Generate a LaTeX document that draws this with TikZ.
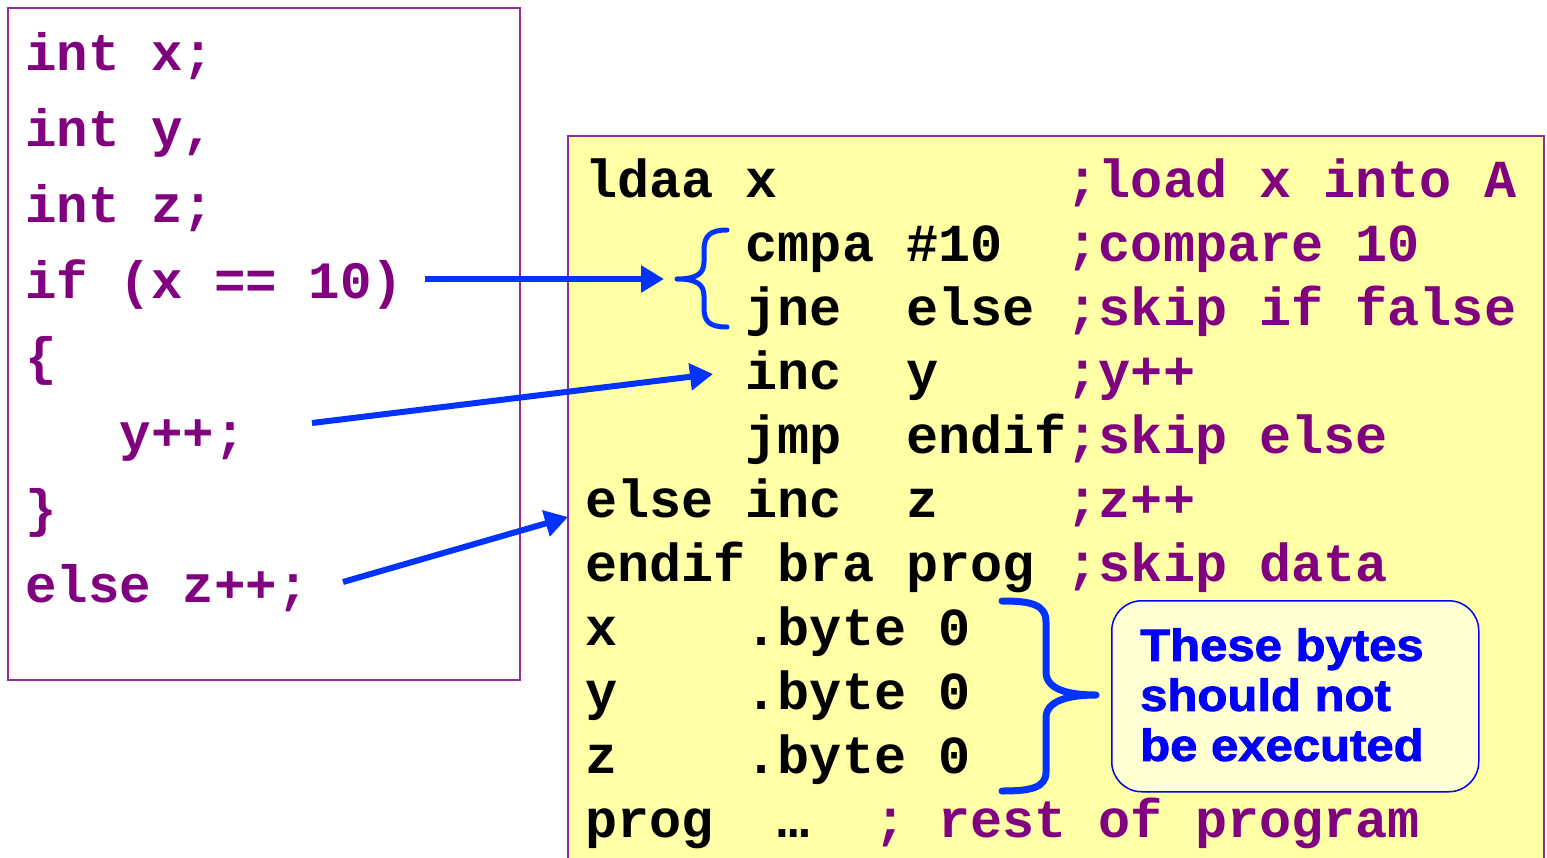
\documentclass[tikz,border=0pt]{standalone}
\usepackage{fontspec}
\usetikzlibrary{arrows.meta}
\newfontfamily\codefont{Liberation Mono}
\newfontfamily\notefont{Liberation Sans}[FakeStretch=1.09,FakeBold=2]

\definecolor{cpurple}{RGB}{128,0,128}
\definecolor{frame}{RGB}{150,45,150}
\definecolor{asmbg}{RGB}{255,255,166}
\definecolor{notebg}{RGB}{255,255,210}
\definecolor{arrowblue}{RGB}{0,51,255}
\definecolor{noteblue}{RGB}{0,0,255}

\tikzset{
  codebox/.style={draw=frame, line width=1.6pt, anchor=north west, inner sep=0pt},
  cline/.style={anchor=base west, inner sep=0pt, text=cpurple,
    font=\codefont\bfseries\fontsize{52.5}{52.5}\selectfont},
  aline/.style={anchor=base west, inner sep=0pt, text=black,
    font=\codefont\bfseries\fontsize{53.5}{53.5}\selectfont},
  link/.style={draw=arrowblue, line width=6pt,
    -{Triangle[length=23pt,width=26pt]}},
  bracestroke/.style={draw=arrowblue, line cap=round, line join=round},
  note/.style={draw=noteblue, line width=1.5pt, fill=notebg,
    rounded corners=30pt, anchor=north west, inner sep=0pt},
  notetext/.style={anchor=north west, inner sep=0pt, align=left, text=noteblue,
    font=\notefont\bfseries\fontsize{45}{50}\selectfont},
}
\newcommand{\cm}[1]{\textcolor{cpurple}{#1}}

\begin{document}
\begin{tikzpicture}[x=1pt,y=-1pt]
\useasboundingbox (0,0) rectangle (1547,857);
\clip (0,0) rectangle (1547,857);

% C source
\node[codebox, fill=white, minimum width=512pt, minimum height=672pt] (cbox) at (7,7) {};
\node[cline] (c1) at (25,70)  {int~x;};
\node[cline] (c2) at (25,146) {int~y,};
\node[cline] (c3) at (25,222) {int~z;};
\node[cline] (c4) at (25,298) {if~(x~==~10)};
\node[cline] (c5) at (25,374) {\{};
\node[cline] (c6) at (25,450) {~~~y++;};
\node[cline] (c7) at (25,526) {\}};
\node[cline] (c8) at (25,602) {else~z++;};

% assembly listing
\node[codebox, fill=asmbg, minimum width=976pt, minimum height=760pt] (abox) at (567,135) {};
\node[aline] (a1)  at (585,197) {ldaa~x~~~~~~~~~\cm{;load~x~into~A}};
\node[aline] (a2)  at (585,261) {~~~~~cmpa~\#10~~\cm{;compare~10}};
\node[aline] (a3)  at (585,325) {~~~~~jne~~else~\cm{;skip~if~false}};
\node[aline] (a4)  at (585,389) {~~~~~inc~~y~~~~\cm{;y++}};
\node[aline] (a5)  at (585,453) {~~~~~jmp~~endif\cm{;skip~else}};
\node[aline] (a6)  at (585,517) {else~inc~~z~~~~\cm{;z++}};
\node[aline] (a7)  at (585,581) {endif~bra~prog~\cm{;skip~data}};
\node[aline] (a8)  at (585,645) {x~~~~.byte~0};
\node[aline] (a9)  at (585,709) {y~~~~.byte~0};
\node[aline] (a10) at (585,773) {z~~~~.byte~0};
\node[aline] (a11) at (585,837) {prog~~…~~\cm{;~rest~of~program}};

% brace grouping the compare and branch
\coordinate (b1tip) at (677,279);
\draw[bracestroke, line width=5pt]
  (727,230) .. controls (710,230) and (704,236) .. (704,250)
  -- (704,262) .. controls (704,274) and (696,279) .. (b1tip)
  .. controls (696,279) and (704,284) .. (704,296)
  -- (704,308) .. controls (704,322) and (710,327) .. (727,327);

% brace grouping the data bytes
\coordinate (b2tip) at (1096,695);
\draw[bracestroke, line width=7pt]
  (1002,601) .. controls (1030,601) and (1046,604) .. (1046,622)
  -- (1046,672) .. controls (1046,690) and (1070,695) .. (b2tip)
  .. controls (1070,695) and (1046,700) .. (1046,718)
  -- (1046,772) .. controls (1046,788) and (1030,791) .. (1002,791);

% callout
\node[note, minimum width=367pt, minimum height=191pt] (notebox) at (1111,600) {};
\node[notetext] (notelabel) at (1140,628) {These bytes\\should not\\be executed};

% correspondence arrows
\coordinate (s1) at (425,279);
\coordinate (e1) at (664,279);
\coordinate (s2) at (312,423);
\coordinate (e2) at (713,374);
\coordinate (s3) at (343,582);
\coordinate (e3) at (568,517);
\draw[link] (s1) -- (e1);
\draw[link] (s2) -- (e2);
\draw[link] (s3) -- (e3);
\end{tikzpicture}
\end{document}
